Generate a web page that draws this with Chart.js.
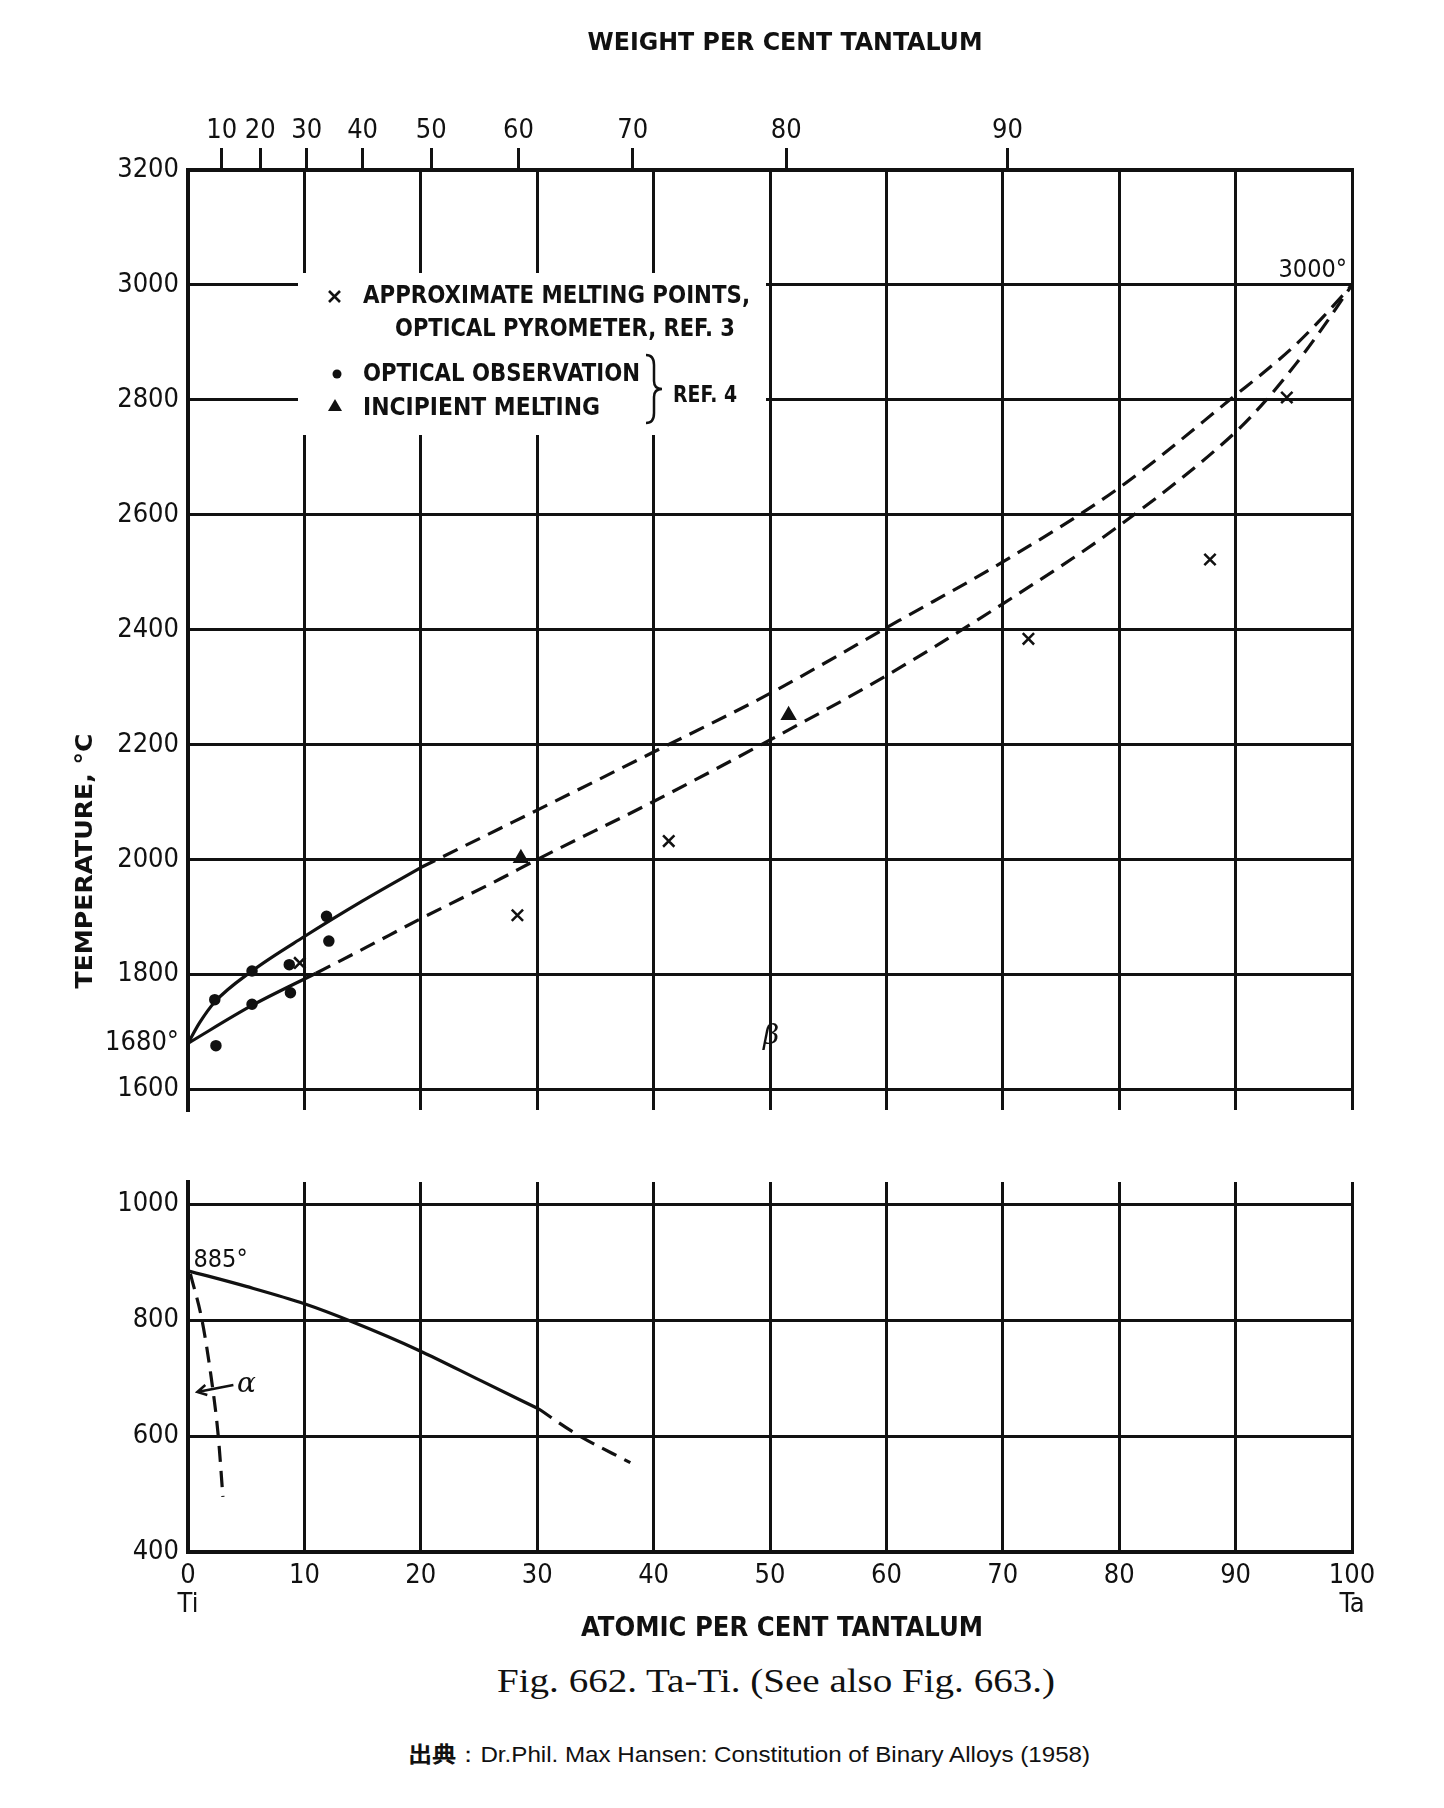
<!DOCTYPE html>
<html>
<head>
<meta charset="utf-8">
<script src="https://cdn.jsdelivr.net/npm/chart.js@4.4.1/dist/chart.umd.min.js"></script>
<style>
  body { margin: 0; background: #fff; width: 1444px; height: 1808px; position: relative; overflow: hidden; }
  canvas { position: absolute; left: 0; }
  #top { top: 0; }
  #bot { top: 1140px; }
  .txt { position: absolute; white-space: nowrap; line-height: 1; color: #111; }
  #fig { font: 34px "Liberation Serif", "DejaVu Serif", serif; }
  #src { font: 22px "Liberation Sans", Arial, sans-serif; }
  #src b { font-family: "Noto Sans CJK JP", "Noto Sans CJK SC", sans-serif; }
</style>
</head>
<body>
<canvas id="top" width="1444" height="1140"></canvas>
<canvas id="bot" width="1444" height="520"></canvas>
<div id="fig" class="txt">Fig. 662. Ta-Ti. (See also Fig. 663.)</div>
<div id="src" class="txt"><b>出典</b>：Dr.Phil. Max Hansen: Constitution of Binary Alloys (1958)</div>
<script>
//! Axis ticks (atomic % Ta on the main axis, weight % Ta on the top axis)

const atomicTicks = [0, 10, 20, 30, 40, 50, 60, 70, 80, 90, 100];
const weightTicks = [10, 20, 30, 40, 50, 60, 70, 80, 90];
const weightAtAtomic = [2.9, 6.2, 10.2, 15.0, 20.9, 28.4, 38.2, 51.4, 70.4];
const tempHighTicks = [1600, 1680, 1800, 2000, 2200, 2400, 2600, 2800, 3000, 3200];
const tempLowTicks = [400, 600, 800, 1000];

//! Liquidus / solidus (upper panel)

const liqSolidX = [0, 1.0, 2.3, 5.5, 10, 15, 20];
const liqSolidT = [1680, 1716, 1752, 1806, 1866, 1928, 1986];
const liqDashX = [20, 26.8, 30, 40, 50, 61.1, 70, 80, 89.5, 94.9, 97.5, 100];
const liqDashT = [1986, 2054, 2086, 2187, 2289, 2416, 2518, 2647, 2800, 2891, 2944, 3000];
const solSolidX = [0, 5.5, 11];
const solSolidT = [1680, 1746, 1802];
const solDashX = [11, 15.3, 20, 26.8, 30, 40, 50, 60, 70, 80, 90, 92.6, 95.2, 97.5, 100];
const solDashT = [1802, 1847, 1897, 1966, 2000, 2101, 2208, 2320, 2445, 2581, 2744, 2799, 2863, 2926, 3000];

//! Measured points

const crossX = [9.6, 28.3, 41.3, 72.2, 87.8, 94.4];
const crossT = [1820, 1903, 2032, 2384, 2522, 2804];
const dotX = [2.3, 2.4, 5.5, 5.5, 8.7, 8.8, 11.9, 12.1];
const dotT = [1756, 1676, 1806, 1748, 1817, 1768, 1901, 1858];
const triX = [28.6, 51.6];
const triT = [2002, 2251];

//! Transus lines (lower panel)

const transSolidX = [0, 5, 10, 14.1, 19.8, 25.2, 30.1];
const transSolidT = [885, 858, 828, 797, 748, 695, 647];
const transDashX = [30.1, 33.4, 38.0];
const transDashT = [647, 603, 554];
const alphaX = [0.2, 1.2, 2.0, 2.6, 3.0];
const alphaT = [880, 800, 700, 600, 495];

const FONT = '"DejaVu Sans Condensed", "DejaVu Sans", sans-serif';
const SERIF = '"DejaVu Serif", "Liberation Serif", serif';
const INK = "#111";

function pts(xs, ys) {
  return xs.map((x, i) => ({ x: x, y: ys[i] }));
}

function curve(xs, ys, dashed) {
  return {
    data: pts(xs, ys),
    borderColor: INK,
    borderWidth: 3.2,
    borderDash: dashed ? [16, 9] : [],
    pointRadius: 0,
    cubicInterpolationMode: "monotone",
    fill: false,
  };
}

function marks(xs, ys, style, r) {
  return {
    data: pts(xs, ys),
    showLine: false,
    pointStyle: style,
    pointRadius: r,
    pointBorderWidth: 2.5,
    pointBorderColor: INK,
    pointBackgroundColor: INK,
  };
}

// squeeze or stretch a string to a given width
function fitText(ctx, text, x, y, w, align) {
  const k = w / ctx.measureText(text).width;
  ctx.save();
  ctx.translate(x, y);
  ctx.scale(k, 1);
  ctx.textAlign = align || "left";
  ctx.fillText(text, 0, 0);
  ctx.restore();
}

function fixedTicks(list) {
  return (s) => {
    s.ticks = list.map((v) => ({ value: v }));
  };
}

const tickFont = { family: FONT, size: 27 };

//! Upper panel notes: legend box, titles, labels

const topNotes = {
  id: "topNotes",
  beforeDatasetsDraw(chart) {
    const { ctx, chartArea: a } = chart;
    ctx.save();
    ctx.fillStyle = "#fff";
    ctx.fillRect(a.left + 110, a.top + 103, 468, 162);
    ctx.restore();
  },
  afterDraw(chart) {
    const { ctx, chartArea: a, scales } = chart;
    const x = scales.x, y = scales.y;
    ctx.save();
    ctx.fillStyle = INK;
    ctx.strokeStyle = INK;
    ctx.textBaseline = "alphabetic";

    ctx.font = "bold 25px " + FONT;
    fitText(ctx, "WEIGHT PER CENT TANTALUM", 785, 50, 395, "center");

    ctx.save();
    ctx.translate(92, 861);
    ctx.rotate(-Math.PI / 2);
    ctx.font = "bold 23px " + FONT;
    fitText(ctx, "TEMPERATURE, °C", 0, 0, 255, "center");
    ctx.restore();

    // legend
    const L = a.left, T = a.top;
    ctx.font = "bold 25px " + FONT;
    fitText(ctx, "APPROXIMATE MELTING POINTS,", L + 175, T + 133, 387);
    fitText(ctx, "OPTICAL PYROMETER, REF. 3", L + 207, T + 166, 340);
    fitText(ctx, "OPTICAL OBSERVATION", L + 175, T + 211, 277);
    fitText(ctx, "INCIPIENT MELTING", L + 175, T + 245, 237);
    ctx.font = "bold 23px " + FONT;
    fitText(ctx, "REF. 4", L + 485, T + 232, 64);

    ctx.lineWidth = 2.6;
    ctx.beginPath();
    ctx.moveTo(L + 141, T + 121); ctx.lineTo(L + 152, T + 132);
    ctx.moveTo(L + 152, T + 121); ctx.lineTo(L + 141, T + 132);
    ctx.stroke();
    ctx.beginPath();
    ctx.arc(L + 149, T + 204, 4.5, 0, Math.PI * 2);
    ctx.fill();
    ctx.beginPath();
    ctx.moveTo(L + 147, T + 229); ctx.lineTo(L + 154, T + 241); ctx.lineTo(L + 140, T + 241);
    ctx.closePath();
    ctx.fill();

    // brace
    ctx.lineWidth = 2.5;
    ctx.beginPath();
    ctx.moveTo(L + 458, T + 185);
    ctx.quadraticCurveTo(L + 466, T + 185, L + 466, T + 195);
    ctx.lineTo(L + 466, T + 211);
    ctx.quadraticCurveTo(L + 466, T + 219, L + 474, T + 219);
    ctx.quadraticCurveTo(L + 466, T + 219, L + 466, T + 227);
    ctx.lineTo(L + 466, T + 243);
    ctx.quadraticCurveTo(L + 466, T + 253, L + 458, T + 253);
    ctx.stroke();

    ctx.font = "25px " + FONT;
    ctx.textAlign = "right";
    ctx.fillText("3000°", x.getPixelForValue(100) - 5, y.getPixelForValue(3000) - 8);

    ctx.font = "italic 28px " + SERIF;
    ctx.textAlign = "center";
    ctx.fillText("β", x.getPixelForValue(50.1), y.getPixelForValue(1678));
    ctx.restore();
  },
};

new Chart(document.getElementById("top"), {
  type: "line",
  data: {
    datasets: [
      curve(liqSolidX, liqSolidT, false),
      curve(liqDashX, liqDashT, true),
      curve(solSolidX, solSolidT, false),
      curve(solDashX, solDashT, true),
      marks(crossX, crossT, "crossRot", 8),
      marks(dotX, dotT, "circle", 4.5),
      marks(triX, triT, "triangle", 7),
    ],
  },
  options: {
    responsive: false,
    animation: false,
    devicePixelRatio: 1,
    events: [],
    layout: { padding: { top: 0, right: 92, bottom: 30, left: 0 } },
    plugins: { legend: { display: false }, tooltip: { enabled: false } },
    scales: {
      x: {
        type: "linear",
        position: "bottom",
        min: 0,
        max: 100,
        afterBuildTicks: fixedTicks(atomicTicks),
        afterFit: (s) => { s.height = 0; },
        ticks: { display: false },
        grid: { color: INK, lineWidth: 3, drawTicks: false },
        border: { display: false },
      },
      xw: {
        type: "linear",
        position: "top",
        min: 0,
        max: 100,
        afterBuildTicks: fixedTicks(weightAtAtomic),
        afterFit: (s) => { s.height = 170; },
        ticks: {
          callback: (v, i) => String(weightTicks[i]),
          font: tickFont,
          color: INK,
          padding: 1,
          autoSkip: false,
          maxRotation: 0,
        },
        grid: { drawOnChartArea: false, color: INK, lineWidth: 3, tickLength: 22 },
        border: { color: INK, width: 4 },
      },
      y: {
        type: "linear",
        min: 1564,
        max: 3200,
        afterBuildTicks: fixedTicks(tempHighTicks),
        afterFit: (s) => { s.width = 188; },
        ticks: {
          callback: (v) => (v === 1680 ? "1680°" : String(v)),
          font: tickFont,
          color: INK,
          padding: 9,
        },
        grid: {
          color: (c) => (c.tick && c.tick.value === 1680 ? "rgba(0,0,0,0)" : INK),
          lineWidth: 3,
          drawTicks: false,
        },
        border: { color: INK, width: 4 },
      },
    },
  },
  plugins: [topNotes],
});

//! Lower panel notes

const botNotes = {
  id: "botNotes",
  afterDraw(chart) {
    const { ctx, chartArea: a, scales } = chart;
    const x = scales.x, y = scales.y;
    ctx.save();
    ctx.fillStyle = INK;
    ctx.strokeStyle = INK;
    ctx.textBaseline = "alphabetic";

    ctx.font = "25px " + FONT;
    ctx.fillText("885°", x.getPixelForValue(0) + 5.5, y.getPixelForValue(892));

    ctx.font = "italic 28px " + SERIF;
    ctx.fillText("α", x.getPixelForValue(4.2), y.getPixelForValue(676));

    const x0 = x.getPixelForValue(3.9), y0 = y.getPixelForValue(688);
    const x1 = x.getPixelForValue(0.8), y1 = y.getPixelForValue(676);
    ctx.lineWidth = 2.5;
    ctx.beginPath();
    ctx.moveTo(x0, y0);
    ctx.lineTo(x1, y1);
    ctx.moveTo(x1 + 8, y1 - 7);
    ctx.lineTo(x1, y1);
    ctx.lineTo(x1 + 10, y1 + 3);
    ctx.stroke();

    ctx.font = "bold 26px " + FONT;
    fitText(ctx, "ATOMIC PER CENT TANTALUM", 782, a.bottom + 84, 402, "center");
    ctx.restore();
  },
};

new Chart(document.getElementById("bot"), {
  type: "line",
  data: {
    datasets: [
      curve(transSolidX, transSolidT, false),
      curve(transDashX, transDashT, true),
      curve(alphaX, alphaT, true),
    ],
  },
  options: {
    responsive: false,
    animation: false,
    devicePixelRatio: 1,
    events: [],
    layout: { padding: { top: 42, right: 92, bottom: 0, left: 0 } },
    plugins: { legend: { display: false }, tooltip: { enabled: false } },
    scales: {
      x: {
        type: "linear",
        min: 0,
        max: 100,
        afterBuildTicks: fixedTicks(atomicTicks),
        afterFit: (s) => { s.height = 108; },
        ticks: {
          callback: (v) => (v === 0 ? ["0", "Ti"] : v === 100 ? ["100", "Ta"] : String(v)),
          font: { family: FONT, size: 27, lineHeight: 1.09 },
          color: INK,
          padding: 9,
          autoSkip: false,
          maxRotation: 0,
        },
        grid: { color: INK, lineWidth: 3, drawTicks: false },
        border: { color: INK, width: 4 },
      },
      y: {
        type: "linear",
        min: 400,
        max: 1038,
        afterBuildTicks: fixedTicks(tempLowTicks),
        afterFit: (s) => { s.width = 188; },
        ticks: { callback: (v) => String(v), font: tickFont, color: INK, padding: 9 },
        grid: { color: INK, lineWidth: 3, drawTicks: false },
        border: { color: INK, width: 4 },
      },
    },
  },
  plugins: [botNotes],
});

//! Caption lines, fitted to their measured widths

function placeText(id, cx, cy, w) {
  const el = document.getElementById(id);
  const k = w / el.offsetWidth;
  el.style.left = cx + "px";
  el.style.top = cy + "px";
  el.style.transform = "translate(-50%, -50%) scaleX(" + k + ")";
}
placeText("fig", 776, 1681, 558);
placeText("src", 749, 1753, 682);
</script>
</body>
</html>
